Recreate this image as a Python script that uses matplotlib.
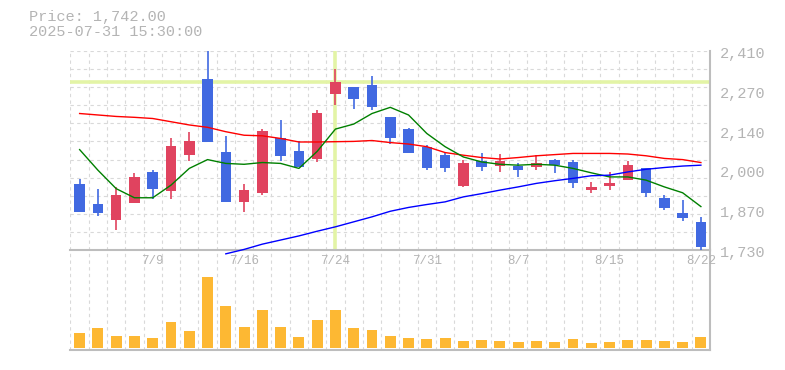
import numpy as np
import matplotlib
matplotlib.use("Agg")
import matplotlib.pyplot as plt

plt.rcParams["font.family"] = ["Liberation Mono", "DejaVu Sans Mono"]

# trading days (2025)
dates = ["7/3", "7/4", "7/7", "7/8", "7/9", "7/10", "7/11", "7/14", "7/15", "7/16",
         "7/17", "7/18", "7/22", "7/23", "7/24", "7/25", "7/28", "7/29", "7/30", "7/31",
         "8/1", "8/4", "8/5", "8/6", "8/7", "8/8", "8/12", "8/13", "8/14", "8/15",
         "8/18", "8/19", "8/20", "8/21", "8/22"]
date_labels = ["7/9", "7/16", "7/24", "7/31", "8/7", "8/15", "8/22"]

opens = [1955, 1887, 1834, 1892, 1996, 1932, 2055, 2313, 2064, 1895, 1926, 2112, 2068, 2042, 2263,
         2286, 2292, 2184, 2143, 2081, 2054, 1950, 2034, 2018, 2018, 2014, 2037, 2030, 1936, 1950,
         1970, 2010, 1907, 1857, 1826]
highs = [1972, 1938, 1944, 1993, 2005, 2112, 2133, 2420, 2119, 1955, 2143, 2174, 2104, 2208, 2348,
         2286, 2324, 2184, 2146, 2088, 2066, 2038, 2061, 2058, 2027, 2054, 2040, 2037, 1962, 1996,
         2034, 2010, 1918, 1901, 1844]
lows = [1861, 1847, 1799, 1892, 1905, 1905, 2035, 2100, 1895, 1861, 1918, 2035, 2014, 2031, 2225,
        2212, 2209, 2093, 2062, 2004, 1997, 1946, 2001, 1997, 1980, 2004, 1994, 1943, 1926, 1936,
        1970, 1912, 1868, 1830, 1728]
closes = [1861, 1857, 1918, 1979, 1939, 2085, 2102, 2100, 1895, 1935, 2136, 2052, 2014, 2197, 2303,
          2246, 2219, 2113, 2062, 2011, 2011, 2027, 2014, 2034, 2004, 2027, 2020, 1960, 1945, 1959,
          2020, 1926, 1874, 1840, 1742]

# moving averages
ma_short = [2073, 2003, 1940, 1909, 1909, 1952, 2009, 2039, 2026, 2023, 2029, 2026, 2009, 2067, 2143,
            2160, 2196, 2217, 2191, 2128, 2083, 2048, 2031, 2023, 2020, 2023, 2020, 2009, 1994, 1980,
            1980, 1969, 1946, 1926, 1879]
ma_mid = [2196, 2191, 2186, 2183, 2179, 2168, 2157, 2149, 2134, 2122, 2120, 2111, 2099, 2099, 2100,
          2101, 2104, 2097, 2092, 2083, 2063, 2054, 2046, 2041, 2046, 2052, 2056, 2060, 2060, 2060,
          2058, 2052, 2043, 2039, 2029]
ma_long = [np.nan] * 8 + [1718, 1733, 1751, 1765, 1779, 1795, 1810, 1827, 1844, 1863, 1876, 1886,
                          1895, 1912, 1923, 1935, 1946, 1958, 1967, 1975, 1984, 1986, 1997, 2006,
                          2012, 2017, 2020]

# volume (thousand shares, estimated)
volumes = [180, 240, 144, 144, 120, 312, 204, 856, 504, 252, 456, 252, 132, 336, 456, 240, 216, 144,
           120, 108, 120, 84, 96, 84, 72, 84, 72, 108, 60, 72, 96, 96, 84, 72, 132]

price_ticks = [2410, 2270, 2140, 2000, 1870, 1730]
price_tick_labels = ["2,410", "2,270", "2,140", "2,000", "1,870", "1,730"]

cross_idx = 14
cross_price = 2302
info_price = "Price: 1,742.00"
info_time = "2025-07-31 15:30:00"

RED = "#e0435f"
BLUE = "#4169e1"
GRID = "#d9d9d9"
SPINE = "#bdbdbd"
TXT = "#b4b4b4"

x = np.arange(len(dates))
o = np.array(opens)
c = np.array(closes)
up = c >= o
cols = [RED if u else BLUE for u in up]

fig = plt.figure(figsize=(7.85, 3.70), dpi=100)
ax = fig.add_axes([0.0898, 0.3235, 0.8147, 0.5395])
axv = fig.add_axes([0.0898, 0.054, 0.8147, 0.2695])
ax.set_zorder(3)
ax.patch.set_alpha(0)

ymin, ymax = 1730, 2410
for a in (ax, axv):
    a.set_xlim(-0.5, len(dates) - 0.5)
    a.set_xticks(np.arange(-0.5, len(dates), 1))
    a.tick_params(axis="x", length=0, labelbottom=False)
    a.grid(axis="x", color=GRID, linestyle=(0, (3, 3)), linewidth=0.8)
    a.set_axisbelow(True)
    for s in ("left", "top"):
        a.spines[s].set_visible(False)
    for s in ("right", "bottom"):
        a.spines[s].set_color(SPINE)
        a.spines[s].set_linewidth(1.5)

# price panel
ax.set_ylim(ymin, ymax)
ax.set_yticks(np.linspace(ymin, ymax, 12))
ax.tick_params(axis="y", length=0, labelleft=False, labelright=False)
ax.grid(axis="y", color=GRID, linestyle=(0, (3, 3)), linewidth=0.8)
for p, lab in zip(np.linspace(ymax, ymin, len(price_ticks)), price_tick_labels):
    ax.annotate(lab, xy=(1, p), xycoords=("axes fraction", "data"),
                xytext=(10, -3), textcoords="offset pixels",
                ha="left", va="center", fontsize=11, color=TXT, annotation_clip=False)

# crosshair
ax.axhline(cross_price, color="#e3f4a6", linewidth=2.6, zorder=1)
ax.axvline(cross_idx, color="#e3f4a6", linewidth=2.6, zorder=1)

# candles
ax.vlines(x, lows, highs, colors=cols, linewidth=1.2, zorder=3)
body = np.maximum(np.abs(c - o), 3)
ax.bar(x, body, bottom=np.minimum(o, c), width=0.58, color=cols, zorder=4)

# moving averages
ax.plot(x, ma_mid, color="#ff0000", linewidth=1.0, zorder=5)
ax.plot(x, ma_short, color="#008000", linewidth=1.0, zorder=5)
ax.plot(x, ma_long, color="#0000ff", linewidth=1.0, zorder=5, clip_on=False)

# volume panel
axv.bar(x, volumes, width=0.6, color="#fdb833", zorder=3)
axv.set_ylim(-24, 1176)
axv.set_yticks([])
for lab in date_labels:
    axv.text(dates.index(lab), 1050, lab, ha="center", va="center",
             fontsize=9, color=TXT)

fig.text(29 / 785, 1 - 17 / 370, info_price, fontsize=11, color=TXT, va="center")
fig.text(29 / 785, 1 - 32 / 370, info_time, fontsize=11, color=TXT, va="center")

fig.savefig("out.png", dpi=100)
